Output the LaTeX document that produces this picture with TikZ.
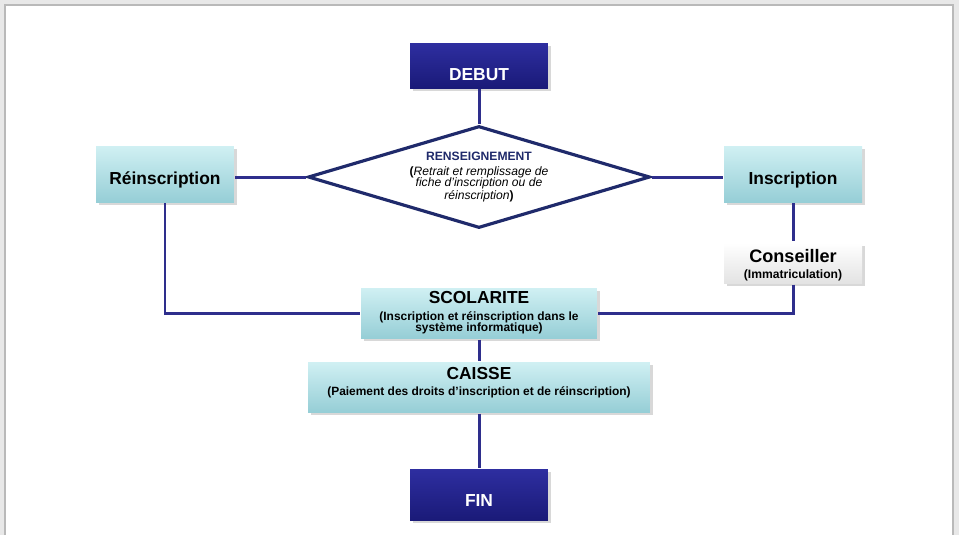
\documentclass[tikz,border=0pt]{standalone}
\usepackage{fontspec}
\setmainfont{Liberation Sans}
\usetikzlibrary{shapes.geometric,shadows}

\definecolor{trait}{RGB}{46,46,140}
\definecolor{marine}{RGB}{31,42,107}
\definecolor{bleuhaut}{RGB}{46,46,160}
\definecolor{bleubas}{RGB}{26,26,120}
\definecolor{cyanhaut}{RGB}{208,240,243}
\definecolor{cyanbas}{RGB}{150,206,214}

\newcommand{\grand}{\bfseries\fontsize{9.9}{11}\selectfont}
\newcommand{\menu}{\bfseries\fontsize{6.8}{7.6}\selectfont}
\newcommand{\bas}[2]{\raisebox{-#1}[0pt][0pt]{#2}}

\begin{document}
\begin{tikzpicture}[x=0.02cm,y=-0.02cm,line width=1.7pt,
  boite/.style={rectangle,inner sep=1pt,align=center,
    drop shadow={opacity=0.3,shadow xshift=1.5pt,shadow yshift=-1.5pt}},
  bleue/.style={boite,top color=bleuhaut,bottom color=bleubas,text=white,
    minimum width=2.76cm,font=\grand},
  claire/.style={boite,top color=cyanhaut,bottom color=cyanbas,font=\grand}]
  % fond de la page
  \fill[gray!18] (0,0) rectangle (959,535);
  \fill[white] (5,5) rectangle (953,535);
  \draw[gray!55,line width=0.6pt] (5,535)--(5,5)--(953,5)--(953,535);
  \useasboundingbox (0,0) rectangle (959,535);
  % debut et renseignement
  \node[bleue,minimum height=0.9cm] (debut) at (479,65.5){\bas{8.5pt}{DEBUT}};
  \node[diamond,aspect=3.35,draw=marine,line width=1.8pt,fill=white,inner sep=0pt,
    minimum width=6.84cm,minimum height=2.04cm,align=center,
    font=\fontsize{6.9}{6.5}\selectfont] (rens) at (479,177)
    {\textcolor{marine}{\textbf{RENSEIGNEMENT}}\\[2pt]
     \textbf{(}\textit{Retrait et remplissage de}\\
     \textit{fiche d’inscription ou de}\\
     \textit{réinscription}\textbf{)}};
  % les deux branches
  \node[claire,minimum width=2.76cm,minimum height=1.12cm] (reins) at (165,174){\bas{5.7pt}{Réinscription}};
  \node[claire,minimum width=2.76cm,minimum height=1.12cm] (insc) at (793,174){\bas{5.7pt}{Inscription}};
  \node[boite,top color=white,bottom color=gray!22,minimum width=2.76cm,minimum height=0.8cm,
    font=\bfseries\fontsize{10.3}{11}\selectfont] (cons) at (793,263)
    {\rule{0pt}{10pt}Conseiller\\[-1.5pt]\textbf{\fontsize{6.9}{8}\selectfont(Immatriculation)}};
  % scolarite, caisse, fin
  \node[claire,minimum width=4.72cm,minimum height=1.0cm] (scol) at (479,313)
    {SCOLARITE\\[-1.4pt]
     \textbf{\menu(Inscription et réinscription dans le}\\[-4.8pt]
     \textbf{\menu système informatique)}};
  \node[claire,minimum width=6.84cm,minimum height=1.0cm] (caisse) at (479,387)
    {CAISSE\\[-2pt]\textbf{\menu(Paiement des droits d’inscription et de réinscription)}\rule[-6.5pt]{0pt}{6.5pt}};
  \node[bleue,minimum height=1.02cm] (fin) at (479,494.5){\bas{7pt}{FIN}};
  % liaisons
  \begin{scope}[draw=trait]
    \draw (debut)--(rens);
    \draw (reins.east |- rens.west)--(rens.west);
    \draw (rens.east)--(insc.west |- rens.east);
    \draw (reins.south)|-(scol.west);
    \draw (insc.south)--(cons.north);
    \draw (cons.south)|-(scol.east);
    \draw (scol)--(caisse);
    \draw (caisse)--(fin);
  \end{scope}
\end{tikzpicture}
\end{document}
